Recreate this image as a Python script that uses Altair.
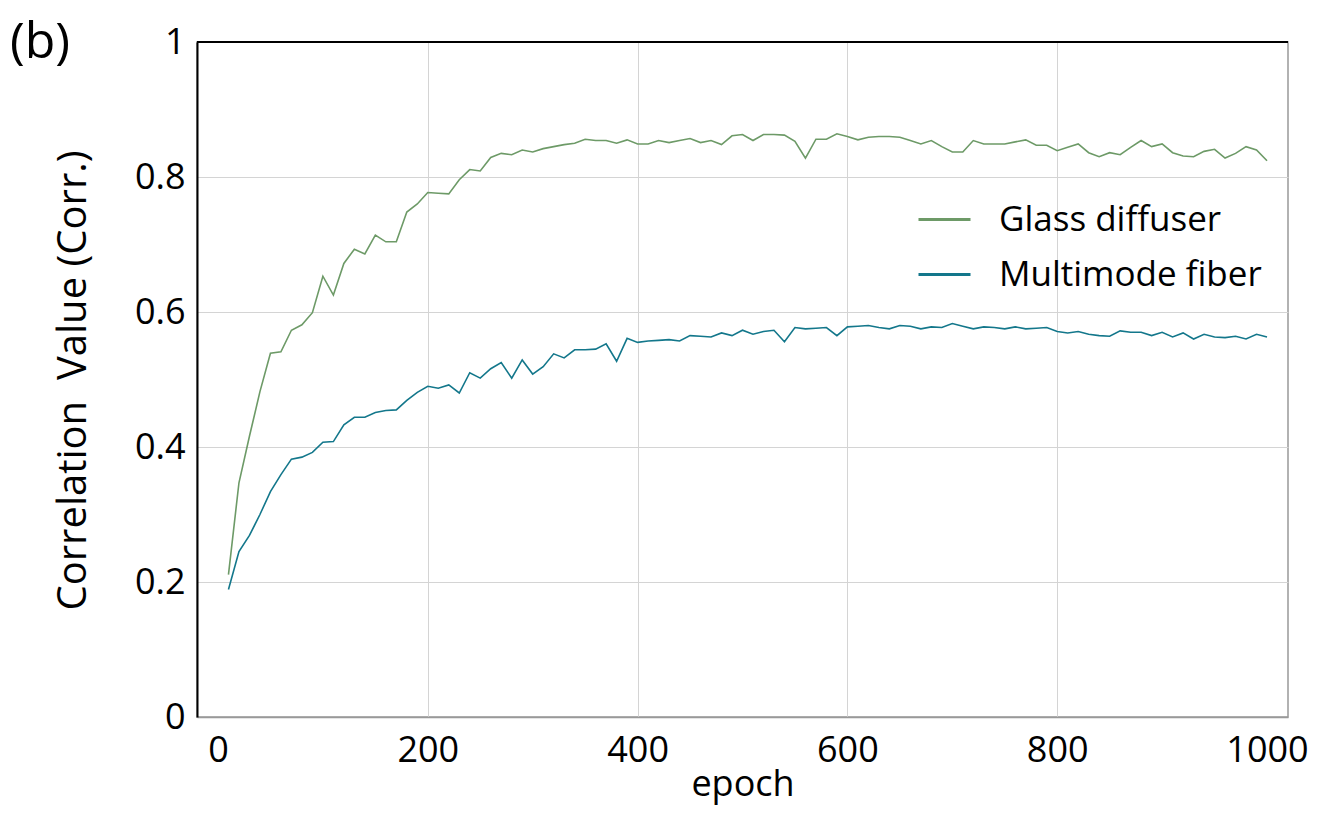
import altair as alt
import pandas as pd

epochs = list(range(10, 1001, 10))

glass_diffuser = [
    0.211, 0.347, 0.416, 0.482, 0.539, 0.541, 0.573, 0.581, 0.599, 0.653,
    0.625, 0.672, 0.693, 0.686, 0.714, 0.704, 0.704, 0.748, 0.760, 0.777,
    0.776, 0.775, 0.796, 0.811, 0.809, 0.829, 0.835, 0.833, 0.840, 0.837,
    0.842, 0.845, 0.848, 0.850, 0.856, 0.854, 0.854, 0.850, 0.855, 0.849,
    0.849, 0.854, 0.851, 0.854, 0.857, 0.851, 0.854, 0.848, 0.861, 0.863,
    0.854, 0.863, 0.863, 0.862, 0.853, 0.828, 0.856, 0.856, 0.864, 0.860,
    0.855, 0.859, 0.860, 0.860, 0.859, 0.854, 0.849, 0.854, 0.845, 0.837,
    0.837, 0.854, 0.849, 0.849, 0.849, 0.852, 0.855, 0.847, 0.847, 0.839,
    0.844, 0.849, 0.836, 0.830, 0.836, 0.833, 0.844, 0.854, 0.845, 0.849,
    0.836, 0.831, 0.830, 0.838, 0.841, 0.828, 0.835, 0.845, 0.840, 0.824,
]

multimode_fiber = [
    0.189, 0.245, 0.269, 0.300, 0.334, 0.359, 0.382, 0.385, 0.392, 0.407,
    0.408, 0.433, 0.444, 0.444, 0.451, 0.454, 0.455, 0.469, 0.481, 0.490,
    0.487, 0.492, 0.480, 0.510, 0.502, 0.516, 0.525, 0.502, 0.529, 0.508,
    0.519, 0.538, 0.532, 0.544, 0.544, 0.545, 0.553, 0.527, 0.561, 0.555,
    0.557, 0.558, 0.559, 0.557, 0.565, 0.564, 0.563, 0.569, 0.565, 0.573,
    0.567, 0.571, 0.573, 0.556, 0.577, 0.575, 0.576, 0.577, 0.565, 0.578,
    0.579, 0.580, 0.577, 0.575, 0.580, 0.579, 0.575, 0.578, 0.577, 0.583,
    0.579, 0.575, 0.578, 0.577, 0.575, 0.578, 0.575, 0.576, 0.577, 0.571,
    0.569, 0.571, 0.567, 0.565, 0.564, 0.572, 0.570, 0.570, 0.565, 0.570,
    0.563, 0.569, 0.560, 0.567, 0.563, 0.562, 0.564, 0.560, 0.567, 0.563,
]

series_names = ["Glass diffuser", "Multimode fiber"]
series_colors = ["#6d9a67", "#13778b"]

x_ticks = [0, 200, 400, 600, 800, 1000]
y_ticks = [0, 0.2, 0.4, 0.6, 0.8, 1.0]
top_edge = [1.0]

df = pd.concat([
    pd.DataFrame({"epoch": epochs, "value": glass_diffuser, "series": series_names[0]}),
    pd.DataFrame({"epoch": epochs, "value": multimode_fiber, "series": series_names[1]}),
])

FONT = "Open Sans"

lines = alt.Chart(df).mark_line(strokeWidth=1.6).encode(
    x=alt.X(
        "epoch:Q",
        scale=alt.Scale(domain=[-20, 1020], nice=False, zero=False),
        axis=alt.Axis(
            values=x_ticks,
            format="d",
            title="epoch",
            ticks=False,
            tickSize=0,
            labelPadding=44,
            labelBaseline="alphabetic",
            labelFontSize=36,
            titleFontSize=36,
            titleFontWeight="normal",
            titleBaseline="alphabetic",
            titleY=78,
            domainColor="#999999",
            domainWidth=1.5,
            gridColor="#d4d4d4",
            gridWidth=1,
            gridOpacity={"condition": {"test": "datum.value === 0 || datum.value === 1000", "value": 0}, "value": 1},
        ),
    ),
    y=alt.Y(
        "value:Q",
        scale=alt.Scale(domain=[0, 1], nice=False),
        axis=alt.Axis(
            values=y_ticks,
            format="~g",
            title="Correlation\u00a0 Value (Corr.)",
            ticks=False,
            tickSize=0,
            labelPadding=12,
            labelFontSize=36,
            titleFontSize=40,
            titleFontWeight="normal",
            titleAngle=-90,
            titleAlign="center",
            titleBaseline="alphabetic",
            titleX=-112,
            titleY=338,
            domainColor="#000000",
            domainWidth=2,
            gridColor="#d4d4d4",
            gridWidth=1,
        ),
    ),
    color=alt.Color(
        "series:N",
        scale=alt.Scale(domain=series_names, range=series_colors),
        legend=alt.Legend(
            title=None,
            orient="none",
            legendX=720,
            legendY=150,
            symbolType="stroke",
            symbolSize=2704,
            symbolStrokeWidth=3,
            labelFontSize=35,
            labelOffset=27,
            labelLimit=0,
            rowPadding=9,
            padding=0,
            labelBaseline="middle",
        ),
    ),
)

top_rule = alt.Chart(pd.DataFrame({"v": top_edge})).mark_rule(
    color="#000000", strokeWidth=2
).encode(y=alt.Y("v:Q"))

chart = alt.layer(lines, top_rule).properties(
    width=1091,
    height=675,
    autosize=alt.AutoSizeParams(type="none"),
    padding={"left": 189, "top": 34, "right": 30, "bottom": 89},
    title=alt.TitleParams(
        text="(b)",
        anchor="start",
        frame="group",
        orient="top",
        offset=0,
        dx=-187,
        dy=84,
        baseline="alphabetic",
        fontSize=50,
        fontWeight="normal",
        font=FONT,
        color="#000000",
    ),
).configure(
    font=FONT,
).configure_view(
    stroke="#999999",
    strokeWidth=1.5,
).configure_axis(
    labelFont=FONT,
    titleFont=FONT,
    labelColor="#000000",
    titleColor="#000000",
).configure_legend(
    labelFont=FONT,
    labelColor="#000000",
)

chart.save("out.html", embed_options={"renderer": "svg", "actions": False})
